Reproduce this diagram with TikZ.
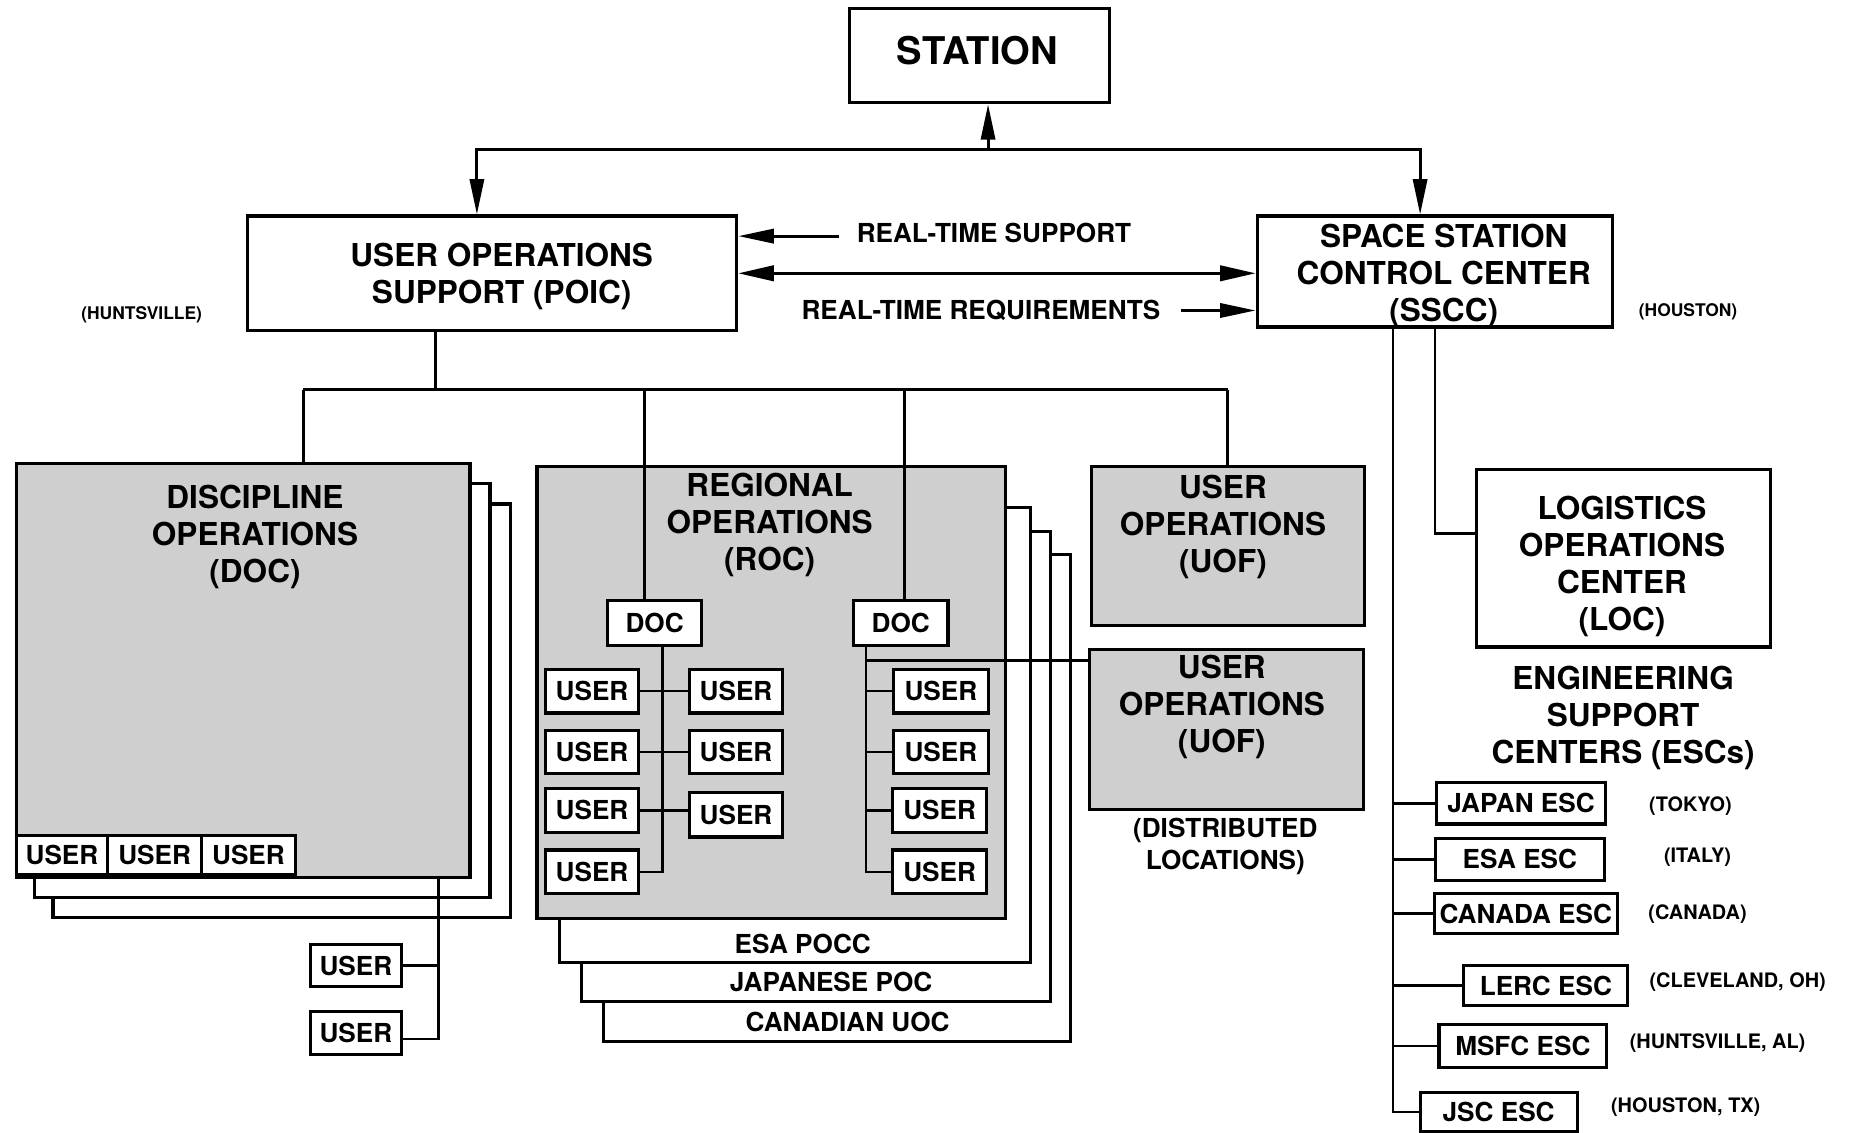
\documentclass[tikz,border=0pt]{standalone}
\usepackage{fontspec}
\setmainfont{TeX Gyre Heros}
\usepackage{tikz}
\usetikzlibrary{arrows.meta}
\newcommand\stationfont{\bfseries\fontsize{9.2}{11}\selectfont}
\newcommand\boxfont{\bfseries\fontsize{7.6}{8.9}\selectfont}
\newcommand\userfont{\bfseries\fontsize{6.3}{7.7}\selectfont}
\newcommand\placefont{\bfseries\fontsize{4.8}{6}\selectfont}
\newcommand\cityfont{\bfseries\fontsize{4.2}{5}\selectfont}
\tikzset{
  box/.style={draw, line width=0.75pt, fill=white, inner sep=0pt, align=center, font=\boxfont},
  panel/.style={box, fill=black!19},
  sheet/.style={box},
  ubox/.style={box, font=\userfont, minimum width=0.79cm, minimum height=0.37cm},
  escbox/.style={box, font=\userfont, minimum height=0.35cm},
  paneltxt/.style={inner sep=0pt, align=center, font=\boxfont},
  lbl/.style={inner sep=0pt, align=center, font=\userfont},
  place/.style={inner sep=0pt, font=\placefont},
  link/.style={line width=0.6pt},
  arr/.style={-{Triangle[length=3mm, width=1.2mm]}, line width=0.7pt},
  dblarr/.style={{Triangle[length=3mm, width=1.3mm]}-{Triangle[length=3mm, width=1.3mm]}, line width=0.7pt},
}

\begin{document}
\begin{tikzpicture}[x=0.01cm, y=-0.01cm]
  \useasboundingbox (0,0) rectangle (1568,959);

  % top level
  \node[box, minimum width=2.2cm, minimum height=0.8cm] (station) at (830,47) {};
  \node[paneltxt, font=\stationfont] (stationtxt) at (828,43) {STATION};
  \node[box, minimum width=4.14cm, minimum height=0.97cm] (poic) at (417,231.5) {};
  \node[paneltxt] (poictxt) at (425,234.5) {USER OPERATIONS\\SUPPORT (POIC)};
  \node[box, minimum width=3.01cm, minimum height=0.94cm] (sscc) at (1215.5,230) {};
  \node[paneltxt] (sscctxt) at (1223,234) {SPACE STATION\\CONTROL CENTER\\(SSCC)};
  \node[place, font=\cityfont] (hsv) at (120,267) {(HUNTSVILLE)};
  \node[place, font=\cityfont] (hou) at (1430,264) {(HOUSTON)};

  \coordinate (hub) at (837,127);
  \draw[arr] (hub) -- (station.south -| hub);
  \draw[arr] (hub) -| ([xshift=-0.13cm]poic.north);
  \draw[arr] (hub) -| ([xshift=-0.125cm]sscc.north);

  \node[lbl] (rts) at (842,197) {REAL-TIME SUPPORT};
  \node[lbl] (rtr) at (831,263) {REAL-TIME REQUIREMENTS};
  \draw[arr] ([xshift=-0.14cm, yshift=-0.03cm]rts.west) -- ([yshift=-0.03cm]poic.east |- rts.west);
  \draw[dblarr] (poic.east) -- (poic.east -| sscc.west);
  \draw[arr] ([xshift=0.17cm]rtr.east) -- (sscc.west |- rtr.east);

  % discipline operations
  \node[sheet, minimum width=3.87cm, minimum height=3.5cm] (doc3) at (238.5,602) {};
  \node[sheet, minimum width=3.86cm, minimum height=3.5cm] (doc2) at (222,585) {};
  \node[panel, minimum width=3.84cm, minimum height=3.5cm] (doc) at (206,568) {};
  \node[paneltxt] (doctxt) at (216,455) {DISCIPLINE\\OPERATIONS\\(DOC)};
  \node[ubox, minimum width=0.77cm, minimum height=0.33cm] (du1) at (52.5,724.5) {USER};
  \node[ubox, minimum width=0.8cm, minimum height=0.33cm] (du2) at (131,724.5) {USER};
  \node[ubox, minimum width=0.79cm, minimum height=0.33cm] (du3) at (210.5,724.5) {USER};
  \node[ubox, minimum width=0.77cm, minimum height=0.36cm] (lo1) at (301.5,818) {USER};
  \node[ubox, minimum width=0.77cm, minimum height=0.36cm] (lo2) at (301.5,875) {USER};
  \coordinate (doct) at ([xshift=-0.28cm]doc.south east);
  \draw[link] (doct) |- ([yshift=-0.05cm]lo2.east);
  \draw[link] (doct |- lo1.east) -- (lo1.east);

  % regional operations
  \node[sheet, minimum width=3.96cm, minimum height=4.12cm] (canuoc) at (709,676) {};
  \node[sheet, minimum width=3.97cm, minimum height=3.98cm] (japoc) at (691.5,649) {};
  \node[sheet, minimum width=3.99cm, minimum height=3.85cm] (esapocc) at (673.5,622.5) {};
  \node[panel, minimum width=3.97cm, minimum height=3.83cm] (roc) at (653.5,586.5) {};
  \node[lbl] at (680,800) {ESA POCC};
  \node[lbl] at (704,832) {JAPANESE POC};
  \node[lbl] at (718,866) {CANADIAN UOC};
  \node[paneltxt] (roctxt) at (652,445) {REGIONAL\\OPERATIONS\\(ROC)};

  % user operations facilities
  \node[panel, minimum width=2.31cm, minimum height=1.35cm] (uof1) at (1040.5,462.5) {};
  \node[paneltxt] at (1036,446) {USER\\OPERATIONS\\(UOF)};
  \node[panel, minimum width=2.32cm, minimum height=1.36cm] (uof2) at (1039,618) {};
  \node[paneltxt] at (1035,599) {USER\\OPERATIONS\\(UOF)};
  \node[lbl] at (1038,717) {(DISTRIBUTED\\LOCATIONS)};

  % bus below POIC
  \coordinate (busL) at (257,330);
  \coordinate (busR) at (1040,330);
  \coordinate (poicdrop) at ([xshift=-0.48cm]poic.south);
  \draw[link] (poicdrop) -- (poicdrop |- busL);
  \draw[link] (busL) -- (busR);
  \draw[link] (busL) -- (busL |- doc.north);
  \draw[link] (busR) -- (busR |- uof1.north);

  \node[ubox, minimum height=0.38cm] (rdoc1) at (554.5,528) {DOC};
  \node[ubox, minimum width=0.8cm, minimum height=0.38cm] (rdoc2) at (763,528) {DOC};
  \draw[link] ([xshift=-0.085cm]rdoc1.north |- busL) -- ([xshift=-0.085cm]rdoc1.north);
  \draw[link] ([xshift=0.03cm]rdoc2.north |- busL) -- ([xshift=0.03cm]rdoc2.north);

  % left DOC tree
  \node[ubox] (lu1) at (501.5,585.5) {USER};
  \node[ubox, minimum height=0.36cm] (lu2) at (501.5,637) {USER};
  \node[ubox] (lu3) at (501.5,686.5) {USER};
  \node[ubox] (lu4) at (501.5,738.5) {USER};
  \node[ubox] (ru1) at (623.5,585.5) {USER};
  \node[ubox, minimum height=0.36cm] (ru2) at (623.5,637) {USER};
  \node[ubox, minimum height=0.38cm] (ru3) at (623.5,690) {USER};
  \coordinate (lt) at ([xshift=0.065cm]rdoc1.south);
  \draw[link] (lt) |- (lu4.east);
  \draw[link] (lu1.east) -- (ru1.west);
  \draw[link] (lu2.east) -- (ru2.west);
  \draw[link] (lu3.east) -- (lu3.east -| ru3.west);

  % right DOC tree
  \node[ubox, minimum width=0.8cm] (xu1) at (797,585.5) {USER};
  \node[ubox, minimum width=0.8cm, minimum height=0.36cm] (xu2) at (797,637) {USER};
  \node[ubox, minimum width=0.8cm] (xu3) at (796,686.5) {USER};
  \node[ubox, minimum width=0.8cm] (xu4) at (796,738.5) {USER};
  \coordinate (rt) at ([xshift=0.12cm]rdoc2.south west);
  \draw[link] (rt) |- (xu4.west);
  \foreach \n in {xu1,xu2,xu3}
    \draw[link] (rt |- \n.west) -- (\n.west);
  \draw[link] ([yshift=-0.11cm]rt) -- ([yshift=-0.11cm]rt -| uof2.west);

  % logistics and engineering support
  \node[box, minimum width=2.49cm, minimum height=1.5cm] (loc) at (1375.5,473) {};
  \node[paneltxt] (loctxt) at (1374,480) {LOGISTICS\\OPERATIONS\\CENTER\\(LOC)};
  \node[paneltxt] (esctxt) at (1375,608) {ENGINEERING\\SUPPORT\\CENTERS (ESCs)};
  \draw[link] (sscc.south) |- ([yshift=0.21cm]loc.west);

  \node[escbox, minimum width=1.43cm] (japan) at (1288.5,680.5) {JAPAN ESC};
  \node[escbox, minimum width=1.43cm, minimum height=0.36cm] (esa) at (1287.5,728) {ESA ESC};
  \node[escbox, minimum width=1.55cm, minimum height=0.34cm] (canada) at (1292.5,774) {CANADA ESC};
  \node[escbox, minimum width=1.39cm, minimum height=0.34cm] (lerc) at (1309.5,835) {LERC ESC};
  \node[escbox, minimum width=1.42cm, minimum height=0.36cm] (msfc) at (1290,886) {MSFC ESC};
  \node[escbox, minimum width=1.33cm, minimum height=0.33cm] (jsc) at (1269.5,942) {JSC ESC};
  \coordinate (esct) at ([xshift=-0.355cm]sscc.south);
  \draw[link] (esct) |- (jsc.west);
  \foreach \n in {japan,esa,canada,lerc,msfc}
    \draw[link] (esct |- \n.west) -- (\n.west);

  \node[place] at (1432,683) {(TOKYO)};
  \node[place] at (1438,726) {(ITALY)};
  \node[place] at (1438,774) {(CANADA)};
  \node[place] at (1472,832) {(CLEVELAND, OH)};
  \node[place] at (1455,884) {(HUNTSVILLE, AL)};
  \node[place] at (1428,938) {(HOUSTON, TX)};
\end{tikzpicture}
\end{document}
